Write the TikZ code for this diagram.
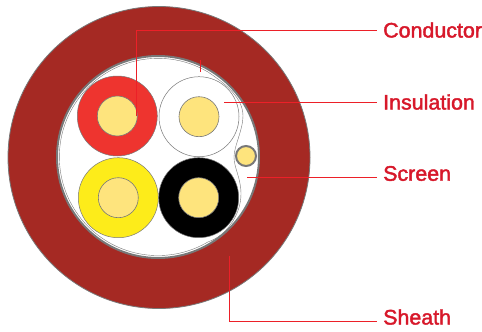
\documentclass[tikz,border=0pt]{standalone}
\usepackage{fontspec}
\setmainfont[FakeStretch=1.02]{Liberation Sans}
\usepackage{tikz}
\usetikzlibrary{positioning}
\definecolor{sheathred}{RGB}{165,41,35}
\definecolor{edgegrey}{RGB}{120,120,120}
\definecolor{copper}{RGB}{254,228,125}
\definecolor{coreyellow}{RGB}{253,236,26}
\definecolor{corered}{RGB}{238,52,47}
\definecolor{leader}{RGB}{236,32,40}
\definecolor{labelred}{RGB}{215,24,42}
\newcommand{\medtext}[1]{\special{pdf:code 2 Tr 0.4 w}#1\special{pdf:code 0 Tr 1 w}}

\begin{document}
\begin{tikzpicture}[x=1pt, y=-1pt,
    sheath/.style={circle, draw=edgegrey, line width=0.8pt, inner sep=0pt, minimum size=#1},
    core/.style={circle, draw=edgegrey, line width=0.5pt, inner sep=0pt, minimum size=80pt},
    wire/.style={circle, draw=edgegrey, line width=0.6pt, fill=copper, inner sep=0pt, minimum size=40pt},
    arr/.style={draw=leader, line width=0.9pt},
    lab/.style={anchor=west, inner sep=0pt, inner xsep=6pt, text=labelred, font=\fontsize{21}{23}\selectfont}]

    \useasboundingbox (0,0) rectangle (482,332);

    % Sheath
    \node[sheath=302pt, fill=sheathred] (outer) at (159,157.5) {};
    \node[sheath=202pt, fill=white, line width=2pt] (inner) at (158,157) {};

    % Screen
    \draw[edgegrey, line width=0.4pt] (208,72) arc[start angle=-59.5, end angle=-300.5, radius=98.6]
        .. controls (226,236) and (241,215) .. (241,194)
        .. controls (241,178) and (234,168) .. (234,157)
        .. controls (234,146) and (243,130) .. (243,116)
        .. controls (243,98) and (226,84) .. (208,72);

    % Cores
    \foreach \name/\col/\x/\y in {red/corered/117.3/116,white/white/199/116.7,yellow/coreyellow/118.3/197.7,black/black/198.7/197.7} {
        \node[core, fill=\col] (core\name) at (\x,\y) {};
        \node[wire] (wire\name) at (\x,\y) {};
    }

    % Drain wire
    \node[circle, draw=edgegrey, line width=2pt, fill=copper, inner sep=0pt, minimum size=20pt] (drain) at (246,156) {};

    % Labels
    \node[lab] (conductor) at (377,30) {\medtext{Conductor}};
    \node[lab] (insulation) at (377,102) {\medtext{Insulation}};
    \node[lab] (screen) at (377,173.5) {\medtext{Screen}};
    \node[lab] (sheathlab) at (377,317) {\medtext{Sheath}};

    % Connections
    \coordinate (tipcond) at (136.7,116);
    \coordinate (tipins) at (224,102);
    \coordinate (tipscr) at (247,177.3);
    \coordinate (tipshe) at (229,256);
    \coordinate (tickA) at (200.3,60);
    \coordinate (tickB) at (200.3,72);
    \coordinate (endshe) at (377,321.7);
    \draw[arr] (tipcond) |- (conductor.west);
    \draw[arr] (tipins) -- (insulation.west);
    \draw[arr] (tipscr) -- (tipscr -| screen.west);
    \draw[arr] (tipshe) |- (endshe);
    \draw[arr] (tickA) -- (tickB);
\end{tikzpicture}
\end{document}
